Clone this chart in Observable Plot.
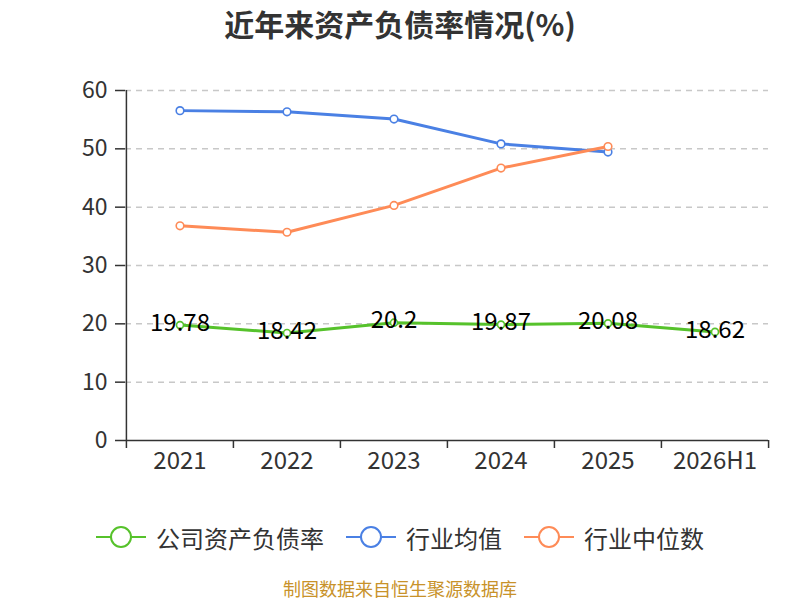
<!DOCTYPE html>
<html>
<head>
<meta charset="utf-8">
<script src="https://cdn.jsdelivr.net/npm/d3@7"></script>
<script src="https://cdn.jsdelivr.net/npm/@observablehq/plot@0.6"></script>
<style>
  html, body { margin: 0; padding: 0; background: #fff; }
  body { width: 800px; height: 600px; position: relative; overflow: hidden;
         font-family: "Microsoft YaHei", "Noto Sans CJK SC", sans-serif; color: #333; }
  #title { position: absolute; left: 0; top: 0; width: 800px; height: 46px; line-height: 46px;
           text-align: center; font-size: 30px; font-weight: bold; color: #333; }
  #chart { position: absolute; left: 0; top: 44px; }
  #unit { position: absolute; left: 52px; top: 112px; width: 22px; height: 28px;
          color: red; font-size: 15px; display: flex; align-items: center; justify-content: center;
          transform: rotate(-90deg); }
  #legend { position: absolute; left: 0; top: 517px; width: 800px; height: 40px;
            display: flex; justify-content: center; align-items: center; gap: 22px; }
  .item { display: flex; align-items: center; font-size: 24px; color: #333; }
  .item svg { margin-right: 10px; }
  #caption { position: absolute; left: 0; top: 576px; width: 800px; height: 24px; line-height: 24px;
             text-align: center; font-size: 18px; color: #c8922a; }
</style>
</head>
<body>
<div id="title">近年来资产负债率情况(%)</div>
<div id="unit">(%)</div>
<div id="chart"></div>
<div id="legend"></div>
<div id="caption">制图数据来自恒生聚源数据库</div>
<script>
const categories = ["2021", "2022", "2023", "2024", "2025", "2026H1"];
const companyRate = [19.78, 18.42, 20.2, 19.87, 20.08, 18.62];
const industryAvg = [56.55, 56.35, 55.1, 50.85, 49.45];
const industryMedian = [36.8, 35.7, 40.3, 46.7, 50.4];
const yTicks = [0, 10, 20, 30, 40, 50, 60];
const seriesNames = ["公司资产负债率", "行业均值", "行业中位数"];
const seriesColors = ["#56c22b", "#4a80e4", "#fe8b57"];

const W = 800, H = 446, mL = 125, mR = 32, mT = 46, mB = 50;
const bw = (W - mL - mR) / categories.length;

const company = categories.map((c, i) => ({x: c, y: companyRate[i], label: String(companyRate[i])}));
const avg = industryAvg.map((v, i) => ({x: categories[i], y: v}));
const med = industryMedian.map((v, i) => ({x: categories[i], y: v}));

const font = '"Microsoft YaHei", "Noto Sans CJK SC", sans-serif';

const chart = Plot.plot({
  width: W, height: H,
  marginLeft: mL, marginRight: mR, marginTop: mT, marginBottom: mB,
  style: {fontFamily: font, background: "#fff", overflow: "visible"},
  x: {type: "band", domain: categories, padding: 0, axis: null},
  y: {domain: [0, 60], axis: null},
  marks: [
    Plot.gridY(yTicks.filter(v => v > 0), {stroke: "#c8c8c8", strokeOpacity: 1, strokeWidth: 1.5, strokeDasharray: "6,5"}),
    Plot.ruleY([0], {stroke: "#333", strokeWidth: 1.5}),
    Plot.ruleX([categories[0]], {y1: 0, y2: 60, dx: -bw / 2, stroke: "#333", strokeWidth: 1.5}),
    Plot.axisY(yTicks, {anchor: "left", tickSize: 10, tickPadding: 8, fontSize: 23, color: "#333", stroke: "#333", strokeWidth: 1.5, label: null}),
    Plot.axisX(categories, {anchor: "bottom", tickSize: 8, dx: -bw / 2, tickFormat: () => "", stroke: "#333", strokeWidth: 1.5, label: null}),
    Plot.axisX([categories[categories.length - 1]], {anchor: "bottom", tickSize: 8, dx: bw / 2, tickFormat: () => "", stroke: "#333", strokeWidth: 1.5, label: null}),
    Plot.axisX(categories, {anchor: "bottom", tickSize: 0, tickPadding: 11, fontSize: 24, color: "#333", label: null}),
    Plot.line(avg, {x: "x", y: "y", stroke: seriesColors[1], strokeWidth: 3}),
    Plot.line(med, {x: "x", y: "y", stroke: seriesColors[2], strokeWidth: 3}),
    Plot.line(company, {x: "x", y: "y", stroke: seriesColors[0], strokeWidth: 3}),
    Plot.dot(avg, {x: "x", y: "y", r: 3.8, fill: "#fff", stroke: seriesColors[1], strokeWidth: 1.6}),
    Plot.dot(med, {x: "x", y: "y", r: 3.8, fill: "#fff", stroke: seriesColors[2], strokeWidth: 1.6}),
    Plot.dot(company, {x: "x", y: "y", r: 3.5, fill: "#fff", stroke: seriesColors[0], strokeWidth: 1.6}),
    Plot.text(company, {x: "x", y: "y", text: "label", fontSize: 24, fill: "#000", dy: -2})
  ]
});
document.getElementById("chart").appendChild(chart);

const legend = document.getElementById("legend");
seriesNames.forEach((name, i) => {
  const item = document.createElement("div");
  item.className = "item";
  item.innerHTML = `<svg width="50" height="26"><line x1="0" x2="50" y1="13" y2="13" stroke="${seriesColors[i]}" stroke-width="2"/><circle cx="25" cy="13" r="10" fill="#fff" stroke="${seriesColors[i]}" stroke-width="2"/></svg><span>${name}</span>`;
  legend.appendChild(item);
});
</script>
</body>
</html>
